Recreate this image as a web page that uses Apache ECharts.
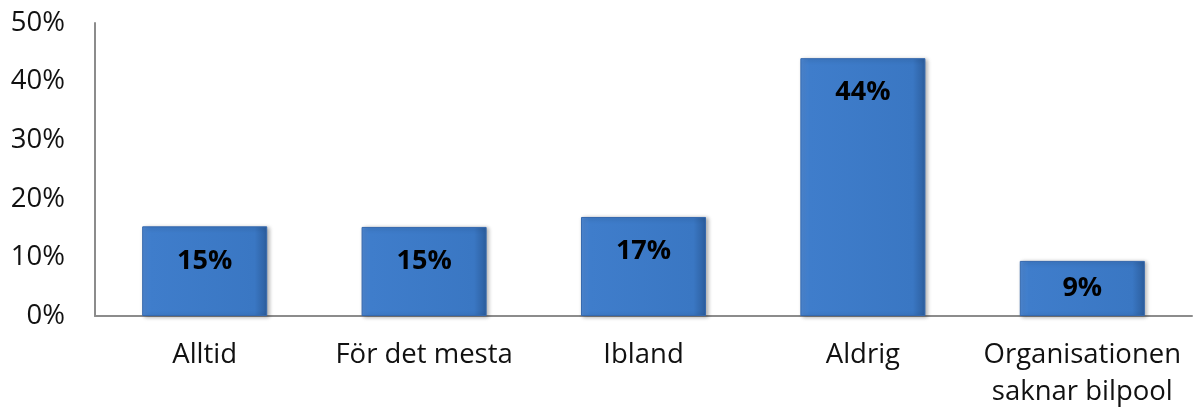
<!DOCTYPE html>
<html>
<head>
<meta charset="utf-8">
<script src="https://cdn.jsdelivr.net/npm/echarts@6/dist/echarts.min.js"></script>
<style>html,body{margin:0;padding:0;background:#fff;}#c{width:1195px;height:415px;}</style>
</head>
<body>
<div id="c"></div>
<script>
const categories = ['Alltid', 'För det mesta', 'Ibland', 'Aldrig', 'Organisationen\nsaknar bilpool'];
const values = [15.3, 15.2, 16.9, 44.0, 9.4];
const yTicks = [0, 10, 20, 30, 40, 50];

const FONT = '"Open Sans", "Noto Sans", sans-serif';
const chart = echarts.init(document.getElementById('c'), null, {renderer: 'canvas'});
const barColor = new echarts.graphic.LinearGradient(0, 0, 1, 0, [
  {offset: 0, color: '#4f8ad6'},
  {offset: 0.07, color: '#3f7dcb'},
  {offset: 0.9, color: '#3a77c3'},
  {offset: 1, color: '#2c5e9e'}
]);
chart.setOption({
  animation: false,
  grid: {left: 95, right: 3, top: 23, bottom: 99, containLabel: false},
  xAxis: {
    type: 'category',
    data: categories,
    axisLine: {lineStyle: {color: '#8c8c8c', width: 2}},
    axisTick: {show: false},
    axisLabel: {color: '#111', fontFamily: FONT, fontSize: 27.5, margin: 21, lineHeight: 37, interval: 0}
  },
  yAxis: {
    type: 'value',
    min: yTicks[0],
    max: yTicks[yTicks.length - 1],
    interval: 10,
    axisLine: {show: true, lineStyle: {color: '#8c8c8c', width: 2}},
    axisTick: {show: false},
    splitLine: {show: false},
    axisLabel: {color: '#111', fontFamily: FONT, fontSize: 27.5, margin: 30, formatter: v => v + '%'}
  },
  series: [{
    type: 'bar',
    barCategoryGap: '43%',
    data: values.map(v => ({
      value: v,
      label: {position: v < 12 ? 'inside' : 'insideTop', distance: 21}
    })),
    itemStyle: {
      color: barColor,
      borderColor: '#3568ad',
      borderWidth: 1,
      shadowColor: 'rgba(0,0,0,0.3)',
      shadowBlur: 4,
      shadowOffsetX: 2,
      shadowOffsetY: 1
    },
    label: {
      show: true,
      color: '#000',
      fontFamily: FONT,
      fontWeight: 'bold',
      fontSize: 27,
      formatter: p => Math.round(p.value) + '%'
    }
  }]
});
</script>
</body>
</html>
